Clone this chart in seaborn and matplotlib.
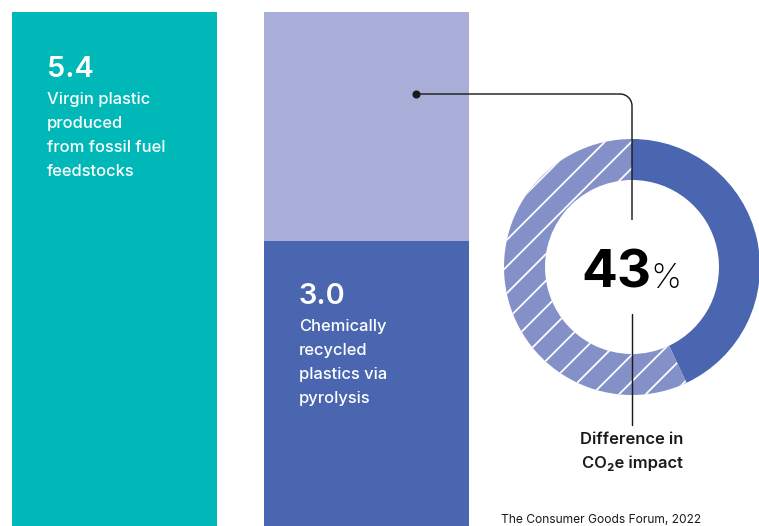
import numpy as np
import pandas as pd
import matplotlib
matplotlib.use("Agg")
import matplotlib.pyplot as plt
import seaborn as sns

# ---- data ----
categories = ["Virgin plastic", "Chemically recycled"]
totals = [5.4, 5.4]
recycled = [0.0, 3.0]
value_labels = ["5.4", "3.0"]
bar_texts = [["Virgin plastic", "produced", "from fossil fuel", "feedstocks"],
             ["Chemically", "recycled", "plastics via", "pyrolysis"]]
donut_values = [43, 57]
donut_label = "43"
caption = ["Difference in", "CO\u2082e impact"]
source = "The Consumer Goods Forum, 2022"

TEAL = "#00B8B8"
LAV = "#A8AED8"
BLUE = "#4A66B0"
HATCHC = "#8490C8"
DARK = "#1A1A1A"

sns.set_theme(style="white")
plt.rcParams["font.family"] = ["Inter", "DejaVu Sans"]
plt.rcParams["hatch.color"] = "white"
plt.rcParams["hatch.linewidth"] = 1.6

DPI = 80
W, H = 759, 526
fig = plt.figure(figsize=(W / DPI, H / DPI), dpi=DPI)
PT = 72 / DPI  # px -> pt

# ---- bars ----
ax = fig.add_axes([0, 0, 1, 1])
df_tot = pd.DataFrame({"cat": categories, "val": totals})
df_rec = pd.DataFrame({"cat": categories, "val": recycled})
sns.barplot(data=df_tot, x="cat", y="val", hue="cat", palette=[TEAL, LAV],
            width=0.813, legend=False, ax=ax, saturation=1, linewidth=0)
sns.barplot(data=df_rec, x="cat", y="val", color=BLUE, width=0.813,
            ax=ax, saturation=1, linewidth=0)
unit_px = 252.0
ax.set_xlim(-114.5 / unit_px, (W - 114.5) / unit_px)
ypx = (526 - 12 - (-1)) / 5.4
ax.set_ylim(1 / ypx, 1 / ypx + H / ypx)
ax.axis("off")

# ---- donut ----
cx, cy, R = 632, 267, 128
dax = fig.add_axes([(cx - R) / W, (H - cy - R) / H, 2 * R / W, 2 * R / H])
wedges, _ = dax.pie(donut_values, startangle=90, counterclock=False,
                    colors=[BLUE, HATCHC], radius=1,
                    wedgeprops=dict(width=41 / 128, linewidth=0))
wedges[1].set_hatch("/")
wedges[1].set_edgecolor("white")
wedges[1].set_linewidth(0)
dax.set_xlim(-1, 1)
dax.set_ylim(-1, 1)
dax.set_aspect("equal")
dax.axis("off")

# ---- overlay (annotations, text) ----
ov = fig.add_axes([0, 0, 1, 1], zorder=5)
ov.set_xlim(0, W)
ov.set_ylim(H, 0)
ov.axis("off")
ov.patch.set_alpha(0)

t = np.linspace(0, np.pi / 2, 30)
xs = np.concatenate([[416], 620 + 12 * np.sin(t), [632]])
ys = np.concatenate([[94], 106 - 12 * np.cos(t), [220]])
ov.plot(xs, ys, color=DARK, lw=1.3 * PT * 1.1, solid_capstyle="butt")
ov.plot([416], [94], "o", color=DARK, ms=7 * PT)
ov.plot([632, 632], [314, 425], color=DARK, lw=1.3 * PT * 1.1)

# bar texts
for x0, ynum, lab, lines in [(47, 77, value_labels[0], bar_texts[0]),
                             (299, 304, value_labels[1], bar_texts[1])]:
    ov.text(x0, ynum, lab, color="white", fontsize=29 * PT, fontweight="semibold",
            va="baseline", ha="left")
    for i, ln in enumerate(lines):
        ov.text(x0, ynum + 27 + 24 * i, ln, color="white", fontsize=16.5 * PT,
                fontweight="medium", va="baseline", ha="left")

ov.text(651, 288, donut_label, color="black", fontsize=53 * PT, fontweight="bold",
        va="baseline", ha="right")
ov.text(650, 288, "%", color="black", fontsize=35 * PT, fontweight="light",
        va="baseline", ha="left")

for i, ln in enumerate(caption):
    ov.text(632, 444 + 24 * i, ln, color=DARK, fontsize=16.5 * PT,
            fontweight="semibold", va="baseline", ha="center")

ov.text(501, 523, source, color=DARK, fontsize=12 * PT, va="baseline", ha="left")

fig.savefig("out.png", dpi=DPI, facecolor="white")
